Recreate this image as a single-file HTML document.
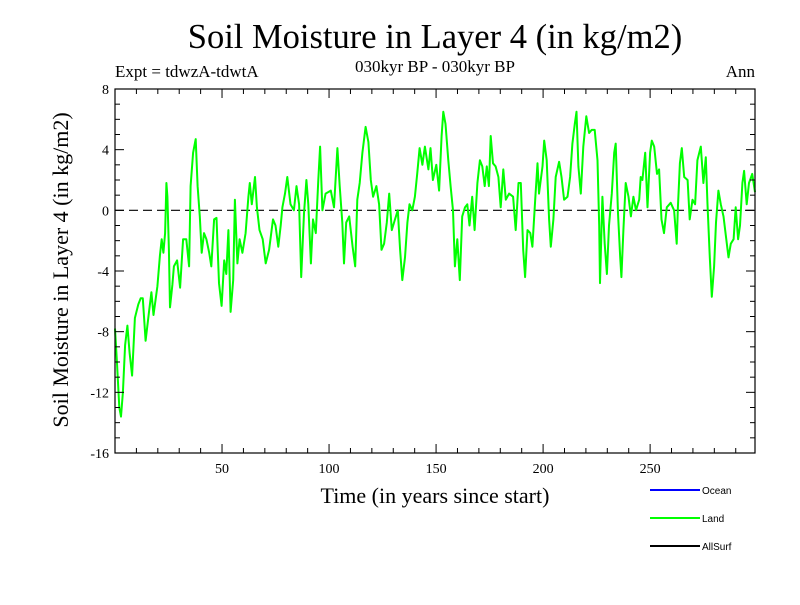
<!DOCTYPE html>
<html><head><meta charset="utf-8"><style>
body{margin:0;background:#fff}
svg text.s{font-family:"Liberation Serif",serif}
svg text.l{font-family:"Liberation Sans",sans-serif}
</style></head><body>
<svg id="c" width="800" height="600" xmlns="http://www.w3.org/2000/svg">
<text class="s" x="435" y="48" font-size="34.5" text-anchor="middle">Soil Moisture in Layer 4 (in kg/m2)</text>
<text class="s" x="435" y="72" font-size="17" text-anchor="middle">030kyr BP - 030kyr BP</text>
<text class="s" x="115" y="77" font-size="17">Expt = tdwzA-tdwtA</text>
<text class="s" x="755" y="77" font-size="17" text-anchor="end">Ann</text>
<text class="s" transform="translate(68,270) rotate(-90)" font-size="22" text-anchor="middle">Soil Moisture in Layer 4 (in kg/m2)</text>
<text class="s" x="435" y="503" font-size="22" text-anchor="middle">Time (in years since start)</text>
<g id="axes"></g>
<g>
<line x1="650" y1="490" x2="700" y2="490" stroke="#0000ff" stroke-width="2"/>
<text class="l" x="702" y="494" font-size="10">Ocean</text>
<line x1="650" y1="518" x2="700" y2="518" stroke="#00ff00" stroke-width="2"/>
<text class="l" x="702" y="522" font-size="10">Land</text>
<line x1="650" y1="546" x2="700" y2="546" stroke="#000" stroke-width="2"/>
<text class="l" x="702" y="550" font-size="10">AllSurf</text>
</g>
</svg>
<script>
const years=[0,1,2,2.8,3.7,4.7,5.8,6.8,8,9.3,10.9,12,13,14.3,15.9,17,18,19.8,21,21.8,22.6,23.4,24,24.5,25.2,25.7,26.8,27.5,29,30.4,31.8,33.3,34.6,35.3,36.5,37.7,38.6,39.6,40.5,41.6,42.7,44,45,46.3,47.4,48.6,49.8,51,52,53,54,55.2,56,57.2,58.2,59.5,61,62.3,63,63.9,65.4,66.3,67.5,69,70.4,72,73.8,75,76.3,77.4,78.2,79.4,80.5,82,83.6,84.8,86,87,88.3,89.4,90.3,91.5,92.5,93.8,95,95.8,96.9,98.4,100.8,102.3,103.9,105,106.2,107,108,109.4,111,112.2,113.2,114.3,115.6,117.1,118.4,119.5,120.6,122.1,123.4,124.5,125.7,127,128.1,129.3,130.8,132.1,133.2,134.2,135.5,136.6,137.6,138.9,140.1,141.2,142.3,143.6,144.8,146.4,147.4,148.5,150.1,151.4,152.6,153.4,154.4,155.7,156.8,157.9,158.8,159.9,161.1,162.2,163.5,164.6,165.6,166.9,168,169.3,170.5,171.6,172.7,173.7,174.7,175.5,176.6,177.8,179.1,180.2,181.4,182.6,184.1,186,187.2,188.5,189.6,190.7,191.6,192.7,194,195,196.3,197.4,198.1,199.7,200.5,201.7,202.8,203.6,204.8,205.9,207.5,208.6,209.8,211.4,212.6,213.7,214.8,215.6,216.5,217.6,218.8,220.2,221.5,222.7,224.1,225.4,226.2,226.6,227.7,228.8,229.8,230.8,232.1,233.2,233.9,235,236,236.6,237.5,238.6,239.9,241,242.2,243.4,244.9,245.6,246.4,247.7,248.8,250,250.8,251.9,253.2,254.2,255.3,256.5,257.8,259.6,261.2,262.4,263,263.9,264.8,265.9,267.5,268.5,269.8,271,272.1,273.7,274.9,276,276.8,277.9,278.8,279.9,280.8,281.9,283,284.3,285.4,286.6,287.7,289,290,291.1,292,293.1,293.9,295.1,296.2,297.7,299];
const land=[-7.8,-10.2,-13,-13.6,-12,-8.9,-7.6,-9.4,-10.9,-7.1,-6.2,-5.8,-5.8,-8.6,-6.7,-5.4,-6.9,-5,-3,-1.9,-2.8,-1.5,1.8,0.9,-2.6,-6.4,-4.9,-3.7,-3.3,-5.1,-1.9,-1.9,-3.7,1.6,3.8,4.7,1.6,-0.4,-2.8,-1.5,-1.9,-2.8,-3.7,-0.6,-0.5,-4.8,-6.3,-3.3,-4.2,-1.3,-6.7,-4.6,0.7,-3.5,-1.9,-2.8,-1.5,0.9,1.8,0.4,2.2,0.2,-1.3,-1.9,-3.5,-2.6,-0.6,-1,-2.4,-1,0.2,1.1,2.2,0.4,0,1.6,0.4,-4.4,-0.2,2,0.4,-3.5,-0.6,-1.5,2,4.2,0,1.1,1.3,0.2,4.1,1.6,-0.8,-3.5,-0.8,-0.4,-2.4,-3.7,0.7,1.8,3.8,5.5,4.5,2,0.9,1.6,0.4,-2.6,-2.2,-0.8,1.1,-1.3,-0.6,0,-2.6,-4.6,-3.1,-0.8,0.4,0,0.9,2.4,4.1,3,4.2,2.7,4.1,2,3,1.3,4.9,6.5,5.7,3.3,1.6,0,-3.7,-1.9,-4.6,-0.4,0.2,0.4,-1,0.9,-1.3,1.8,3.3,2.9,1.6,2.9,1.6,4.9,3.1,2.9,2.2,0.2,2.7,0.7,1.1,0.9,-1.3,1.8,1.8,-2.6,-4.4,-1.3,-1.5,-2.4,0.7,3.1,1.1,2.9,4.6,3.3,-0.6,-2.4,-0.6,2.2,3.2,2.2,0.7,0.9,2.2,4.4,5.7,6.5,2.9,1.1,4.2,6.2,5.1,5.3,5.3,3.3,-1,-4.8,0.9,-2.2,-4.2,-1,1.1,3.8,4.4,-0.2,-3.1,-4.4,-1.3,1.8,0.9,-0.4,0.9,0,0.7,2.2,2,3.8,0.2,3.8,4.6,4.2,2.4,2.7,-0.6,-1.5,0.2,0.5,0,-2.2,0.2,3.1,4.1,2.2,2,-0.6,0.7,0.4,3.3,4.2,1.8,3.5,0.4,-3.1,-5.7,-3.7,-0.8,1.3,0.4,-0.4,-1.7,-3.1,-2.2,-1.9,0.2,-1.9,-1,1.8,2.6,0.4,1.8,2.4,1.2];
const yTicks=[-16,-12,-8,-4,0,4,8];
const yTickLabels=["-16","-12","-8","-4","0","4","8"];
const xTicks=[50,100,150,200,250];
const xTickLabels=["50","100","150","200","250"];
const X0=115,X1=755,Y0=89,Y1=453,xMin=0,xMax=299,yMin=-16,yMax=8;
const xs=v=>X0+(v-xMin)/(xMax-xMin)*(X1-X0);
const ys=v=>Y1-(v-yMin)/(yMax-yMin)*(Y1-Y0);
const NS="http://www.w3.org/2000/svg";
const g=document.getElementById('axes');
function mk(t,a,p){const e=document.createElementNS(NS,t);for(const k in a)e.setAttribute(k,a[k]);(p||g).appendChild(e);return e;}
const z=mk('line',{x1:X0,x2:X1,y1:ys(0),y2:ys(0),stroke:'#000','stroke-width':1.2,'stroke-dasharray':'9,5'});


let d='';years.forEach((yr,i)=>{d+=(i?'L':'M')+xs(yr).toFixed(1)+','+ys(land[i]).toFixed(1);});
const p=mk('path',{d:d,fill:'none',stroke:'#00ff00','stroke-width':2,'stroke-linejoin':'round'});


const fr=mk('rect',{x:X0,y:Y0,width:X1-X0,height:Y1-Y0,fill:'none',stroke:'#000','stroke-width':1.2});


for(let v=yMin;v<=yMax;v++){const L=yTicks.includes(v)?9:5;
mk('line',{x1:X0,x2:X0+L,y1:ys(v),y2:ys(v),stroke:'#000'});
mk('line',{x1:X1,x2:X1-L,y1:ys(v),y2:ys(v),stroke:'#000'});}
yTicks.forEach((v,i)=>{const t=mk('text',{x:X0-6,y:ys(v)+5,'font-size':14,'text-anchor':'end',class:'s'});t.textContent=yTickLabels[i];

});
for(let v=10;v<xMax;v+=10){const L=xTicks.includes(v)?9:5;
mk('line',{x1:xs(v),x2:xs(v),y1:Y1,y2:Y1-L,stroke:'#000'});
mk('line',{x1:xs(v),x2:xs(v),y1:Y0,y2:Y0+L,stroke:'#000'});}
xTicks.forEach((v,i)=>{const t=mk('text',{x:xs(v),y:Y1+20,'font-size':14,'text-anchor':'middle',class:'s'});t.textContent=xTickLabels[i];

});
</script>
</body></html>
